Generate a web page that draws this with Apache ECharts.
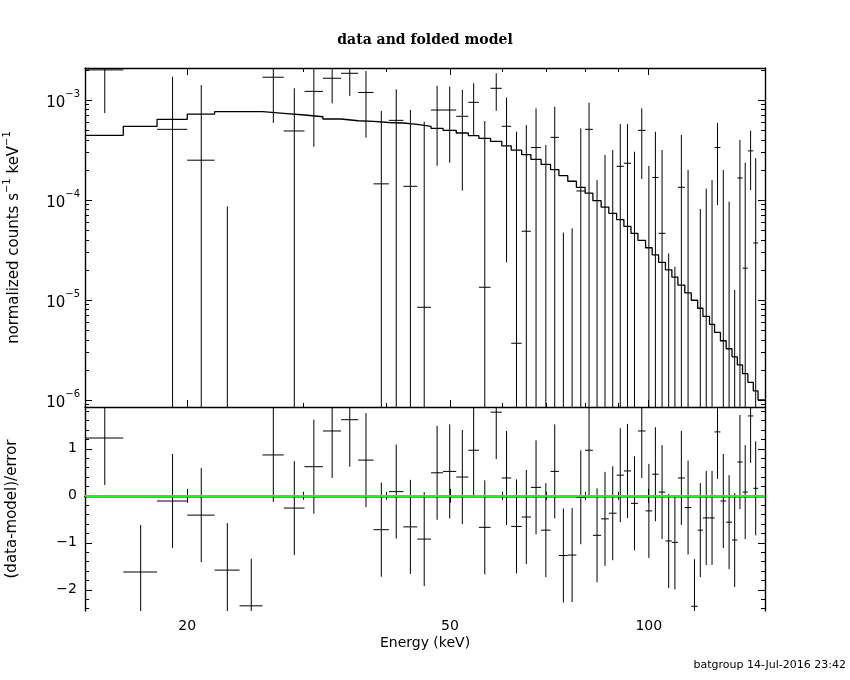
<!DOCTYPE html>
<html>
<head>
<meta charset="utf-8">
<title>data and folded model</title>
<script src="https://cdn.jsdelivr.net/npm/echarts@6.0.0/dist/echarts.min.js"></script>
<style>
    html, body { margin: 0; padding: 0; background: #fff; }
    #chart { width: 850px; height: 680px; }
</style>
</head>
<body>
<div id="chart"></div>
<script>
    // channel edges (keV), 59 bins
    var E_EDGES = [14.0, 16.0, 18.0, 20.0, 22.0, 24.0, 26.0, 28.0, 30.1, 32.1,
        34.2, 36.3, 38.3, 40.4, 42.5, 44.6, 46.8, 48.8, 51.1, 53.3,
        55.3, 57.6, 59.9, 61.9, 64.2, 66.3, 68.7, 71.0, 73.1, 75.4,
        77.7, 80.1, 82.3, 84.7, 87.0, 89.4, 91.7, 94.0, 96.3, 98.9,
        101.2, 103.5, 106.0, 108.4, 110.7, 113.4, 116.0, 118.6, 120.8, 123.6,
        125.8, 128.4, 131.0, 133.7, 136.2, 138.7, 141.3, 144.0, 146.4, 150.0];

    // folded model, one value per bin
    var MODEL = [4.43e-4, 5.46e-4, 6.41e-4, 7.24e-4, 7.64e-4, 7.64e-4, 7.36e-4, 7.08e-4, 6.8e-4, 6.46e-4,
        6.2e-4, 6.1e-4, 5.96e-4, 5.89e-4, 5.7e-4, 5.46e-4, 5.21e-4, 4.97e-4, 4.68e-4, 4.4e-4,
        4.14e-4, 3.85e-4, 3.48e-4, 3.16e-4, 2.84e-4, 2.55e-4, 2.27e-4, 2.01e-4, 1.75e-4, 1.54e-4,
        1.34e-4, 1.17e-4, 9.85e-5, 8.5e-5, 7.35e-5, 6.35e-5, 5.44e-5, 4.64e-5, 3.95e-5, 3.33e-5,
        2.82e-5, 2.38e-5, 2.0e-5, 1.69e-5, 1.41e-5, 1.18e-5, 9.93e-6, 8.26e-6, 6.86e-6, 5.7e-6,
        4.74e-6, 3.91e-6, 3.25e-6, 2.7e-6, 2.24e-6, 1.83e-6, 1.5e-6, 1.23e-6, 1.0e-6];

    // data: value, top of error bar, bottom of error bar (null = off the log scale)
    var DATA_Y = [2.0e-3, null, 5.09e-4, 2.5e-4, null, null, 1.69e-3, 4.9e-4, 1.22e-3, 1.65e-3,
        1.85e-3, 1.19e-3, 1.45e-4, 6.26e-4, 1.37e-4, 8.45e-6, 7.94e-4, 7.94e-4, 6.87e-4, 9.48e-4,
        1.34e-5, 1.31e-3, 5.46e-4, 3.69e-6, 4.87e-5, 3.35e-4, null, 4.23e-4, null, null,
        1.23e-4, 5.09e-4, null, null, null, 2.17e-4, 2.33e-4, null, 4.97e-4, null,
        1.68e-4, 4.64e-5, null, null, 1.34e-4, null, null, null, null, null,
        3.35e-4, null, null, null, 1.66e-4, 2.08e-5, 3.1e-4, 3.72e-5, null];
    var DATA_UP = [3.3e-3, null, 1.71e-3, 1.41e-3, 8.6e-5, null, 2.8e-3, 1.31e-3, 2.1e-3, 2.37e-3,
        2.6e-3, 1.95e-3, 7.76e-4, 1.28e-3, 7.94e-4, 6.08e-4, 1.39e-3, 1.36e-3, 1.26e-3, 1.47e-3,
        6.17e-4, 1.85e-3, 1.06e-3, 4.82e-4, 5.62e-4, 8.25e-4, 3.55e-4, 8.57e-4, 4.73e-5, 5.2e-5,
        5.2e-4, 9.4e-4, 1.58e-4, 2.82e-4, 3.16e-4, 5.75e-4, 5.75e-4, 3.04e-4, 8.25e-4, 2.19e-4,
        4.82e-4, 3.16e-4, 2.92e-5, 2.15e-5, 4.47e-4, 2.0e-4, null, 8.13e-5, 1.3e-4, 1.58e-4,
        5.9e-4, 2.0e-4, 9.6e-5, 1.26e-5, 3.98e-4, 2.36e-4, 4.94e-4, 2.62e-4, null];
    var DATA_DN = [7.4e-4, null, null, null, null, null, 5.9e-4, null, 3.41e-4, 9.27e-4,
        1.1e-3, 4.2e-4, null, null, null, null, 2.2e-4, 2.36e-4, 1.24e-4, 4.47e-4,
        null, 7.8e-4, 2.38e-5, null, null, null, null, null, null, null,
        null, null, null, null, null, null, null, null, 1.62e-4, null,
        null, null, null, null, null, null, null, null, null, null,
        8.9e-5, null, null, null, null, null, 1.26e-4, null, null];

    // (data-model)/error, error bars are +-1
    var RESID = [1.23, -1.62, -0.11, -0.41, -1.58, -2.34, 0.87, -0.26, 0.62, 1.38,
        1.62, 0.76, -0.72, 0.09, -0.66, -0.92, 0.49, 0.52, 0.40, 0.97,
        -0.67, 1.78, 0.38, -0.65, -0.45, 0.18, -0.73, 0.52, -1.27, -1.26,
        -0.03, 0.97, -0.84, -0.49, -0.37, 0.44, 0.53, -0.16, 1.38, -0.32,
        0.46, 0.08, -0.96, -0.99, 0.38, -0.25, -2.35, -0.73, -0.47, -0.47,
        1.36, -0.11, -0.56, -0.94, 0.72, 0.08, 1.70, 0.16, null];
    var RESID_ERR = 1;

    // tick values
    var X_MAJOR = [20, 50, 100];
    var X_MINOR = [30, 40, 60, 70, 80, 90];
    var Y_MAJOR = [1e-6, 1e-5, 1e-4, 1e-3];
    var Y_MINOR = [9e-7, 2e-6, 3e-6, 4e-6, 5e-6, 6e-6, 7e-6, 8e-6, 9e-6,
        2e-5, 3e-5, 4e-5, 5e-5, 6e-5, 7e-5, 8e-5, 9e-5,
        2e-4, 3e-4, 4e-4, 5e-4, 6e-4, 7e-4, 8e-4, 9e-4, 2e-3];
    var R_MAJOR = [-2, -1, 0, 1];
    var R_MINOR = [-2.4, -2.2, -1.8, -1.6, -1.4, -1.2, -0.8, -0.6, -0.4, -0.2,
        0.2, 0.4, 0.6, 0.8, 1.2, 1.4, 1.6, 1.8];

    var X_MIN = 14, X_MAX = 150;
    var Y_MIN = 8.5e-7, Y_MAX = 2.09e-3;
    var R_MIN = -2.45, R_MAX = 1.89;

    var FONT = 'DejaVu Sans';
    var ink = '#000';

    function axis(grid, type, min, max, pos, ticks, len, opts) {
        opts = opts || {};
        var a = {
            type: type, gridIndex: grid, min: min, max: max, position: pos,
            axisLine: { show: !!opts.line, lineStyle: { color: ink, width: 1.4 } },
            axisTick: { show: true, inside: true, length: len, customValues: ticks,
                lineStyle: { color: ink, width: 1 } },
            axisLabel: { show: false },
            splitLine: { show: false }
        };
        if (opts.label) a.axisLabel = opts.label;
        if (opts.name) {
            a.name = opts.name;
            a.nameLocation = 'middle';
            a.nameGap = opts.nameGap;
            a.nameRotate = opts.nameRotate;
            a.nameTextStyle = opts.nameTextStyle;
        }
        return a;
    }

    var xLabel = {
        show: true, customValues: X_MAJOR, margin: 8, color: ink,
        fontFamily: FONT, fontSize: 14,
        formatter: function (v) { return String(Math.round(v)); }
    };
    var yLabel = {
        show: true, customValues: Y_MAJOR, margin: 5, color: ink,
        formatter: function (v) {
            return '{b|10}{s|\u2212' + Math.round(-Math.log10(v)) + '}';
        },
        rich: {
            b: { fontFamily: FONT, fontSize: 15, lineHeight: 21, verticalAlign: 'bottom', color: ink },
            s: { fontFamily: FONT, fontSize: 10, lineHeight: 11, verticalAlign: 'top', color: ink }
        }
    };
    var rLabel = {
        show: true, customValues: R_MAJOR, margin: 8, color: ink,
        fontFamily: FONT, fontSize: 14,
        formatter: function (v) { return String(v).replace('-', '\u2212'); }
    };

    var xAxes = [
        axis(0, 'log', X_MIN, X_MAX, 'bottom', X_MAJOR, 7, { line: true }),
        axis(0, 'log', X_MIN, X_MAX, 'bottom', X_MINOR, 4),
        axis(0, 'log', X_MIN, X_MAX, 'top', X_MAJOR, 7, { line: true }),
        axis(0, 'log', X_MIN, X_MAX, 'top', X_MINOR, 4),
        axis(1, 'log', X_MIN, X_MAX, 'bottom', X_MAJOR, 7, {
            line: true, label: xLabel, name: 'Energy (keV)', nameGap: 25,
            nameTextStyle: { fontFamily: FONT, fontSize: 14, color: ink }
        }),
        axis(1, 'log', X_MIN, X_MAX, 'bottom', X_MINOR, 4),
        axis(1, 'log', X_MIN, X_MAX, 'top', X_MAJOR, 7, { line: true }),
        axis(1, 'log', X_MIN, X_MAX, 'top', X_MINOR, 4)
    ];
    var yAxes = [
        axis(0, 'log', Y_MIN, Y_MAX, 'left', Y_MAJOR, 7, {
            line: true, label: yLabel,
            name: '{n|normalized counts s}{s|\u22121}{n| keV}{s|\u22121}',
            nameGap: 63, nameRotate: 90,
            nameTextStyle: {
                color: ink,
                rich: {
                    n: { fontFamily: FONT, fontSize: 15, lineHeight: 20, verticalAlign: 'bottom', color: ink },
                    s: { fontFamily: FONT, fontSize: 10, lineHeight: 11, verticalAlign: 'top', color: ink }
                }
            }
        }),
        axis(0, 'log', Y_MIN, Y_MAX, 'left', Y_MINOR, 4),
        axis(0, 'log', Y_MIN, Y_MAX, 'right', Y_MAJOR, 7, { line: true }),
        axis(0, 'log', Y_MIN, Y_MAX, 'right', Y_MINOR, 4),
        axis(1, 'value', R_MIN, R_MAX, 'left', R_MAJOR, 7, {
            line: true, label: rLabel, name: '(data-model)/error',
            nameGap: 65, nameRotate: 90,
            nameTextStyle: { fontFamily: FONT, fontSize: 15, color: ink }
        }),
        axis(1, 'value', R_MIN, R_MAX, 'left', R_MINOR, 4),
        axis(1, 'value', R_MIN, R_MAX, 'right', R_MAJOR, 7, { line: true }),
        axis(1, 'value', R_MIN, R_MAX, 'right', R_MINOR, 4)
    ];

    // one item per bin: [mid energy, anchor value, bin index]
    var topItems = [], resItems = [];
    for (var i = 0; i < MODEL.length; i++) {
        var mid = (E_EDGES[i] + E_EDGES[i + 1]) / 2;
        topItems.push([mid, MODEL[i], i]);
        if (RESID[i] != null) resItems.push([mid, RESID[i], i]);
    }
    // model histogram, stepped at the channel edges
    var modelLine = E_EDGES.map(function (e, k) {
        return [e, MODEL[Math.min(k, MODEL.length - 1)]];
    });

    function seg(x1, y1, x2, y2) {
        return { type: 'line', shape: { x1: x1, y1: y1, x2: x2, y2: y2 },
            style: { stroke: ink, lineWidth: 1 } };
    }

    function renderData(params, api) {
        var k = api.value(2);
        var cs = params.coordSys;
        var mid = api.value(0);
        var kids = [];
        if (DATA_UP[k] != null) {
            var top = api.coord([mid, DATA_UP[k]]);
            var yb = DATA_DN[k] != null ? api.coord([mid, DATA_DN[k]])[1] : cs.y + cs.height;
            kids.push(seg(top[0], top[1], top[0], yb));
        }
        if (DATA_Y[k] != null) {
            var p0 = api.coord([E_EDGES[k], DATA_Y[k]]);
            var p1 = api.coord([E_EDGES[k + 1], DATA_Y[k]]);
            kids.push(seg(p0[0], p0[1], p1[0], p1[1]));
        }
        return { type: 'group', children: kids };
    }

    function renderResid(params, api) {
        var k = api.value(2);
        var mid = api.value(0);
        var r = RESID[k];
        var a = api.coord([mid, r + RESID_ERR]);
        var b = api.coord([mid, r - RESID_ERR]);
        var p0 = api.coord([E_EDGES[k], r]);
        var p1 = api.coord([E_EDGES[k + 1], r]);
        return { type: 'group', children: [
            seg(a[0], a[1], b[0], b[1]),
            seg(p0[0], p0[1], p1[0], p1[1])
        ] };
    }

    var chart = echarts.init(document.getElementById('chart'));
    var option = {
        animation: false,
        backgroundColor: '#fff',
        title: {
            text: 'data and folded model', left: 'center', top: 28,
            textStyle: { fontFamily: 'DejaVu Serif', fontWeight: 'bold', fontSize: 14, color: ink }
        },
        grid: [
            { left: 85, right: 85, top: 68, height: 339, outerBoundsMode: 'none' },
            { left: 85, right: 85, top: 407, height: 204, outerBoundsMode: 'none' }
        ],
        xAxis: xAxes,
        yAxis: yAxes,
        series: [
            {
                name: 'model', type: 'line', step: 'end', xAxisIndex: 0, yAxisIndex: 0,
                data: modelLine, symbol: 'none', clip: true,
                lineStyle: { color: ink, width: 1.3 }
            },
            {
                name: 'data', type: 'custom', xAxisIndex: 0, yAxisIndex: 0,
                data: topItems, encode: { x: 0, y: 1 }, clip: true,
                renderItem: renderData
            },
            {
                name: 'residuals', type: 'custom', xAxisIndex: 4, yAxisIndex: 4,
                data: resItems, encode: { x: 0, y: 1 }, clip: true,
                renderItem: renderResid,
                markLine: {
                    silent: true, symbol: 'none', label: { show: false },
                    lineStyle: { color: '#22f022', width: 2, type: 'solid', opacity: 1 },
                    emphasis: { disabled: true },
                    data: [{ yAxis: 0 }]
                }
            }
        ],
        graphic: [{
            type: 'text', x: 846, y: 665,
            style: { text: 'batgroup 14-Jul-2016 23:42', fill: ink,
                font: '11px "' + FONT + '"', align: 'right', verticalAlign: 'middle' }
        }]
    };
    chart.setOption(option);
</script>
</body>
</html>
